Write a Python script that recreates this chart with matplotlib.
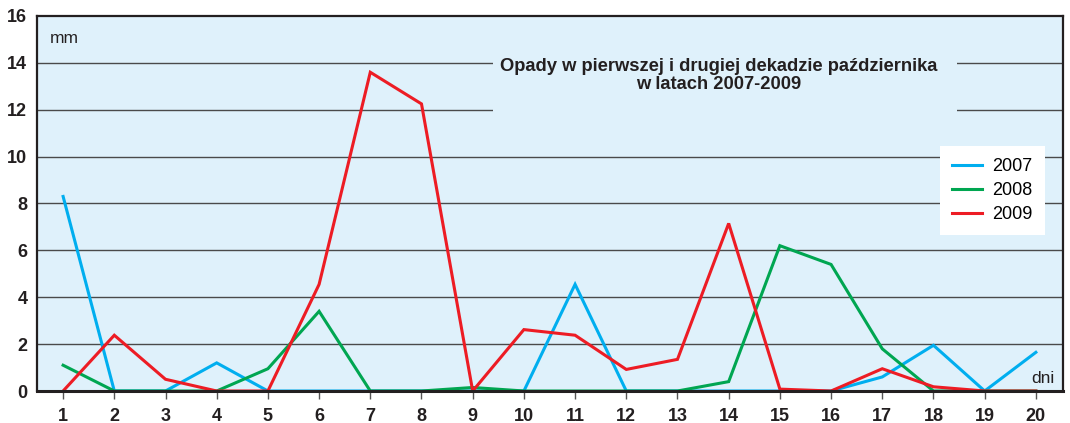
import matplotlib.pyplot as plt
import matplotlib
from matplotlib.patches import Rectangle

days = list(range(1, 21))
y2007 = [8.3, 0, 0, 1.2, 0, 0, 0, 0, 0, 0, 4.55, 0, 0, 0, 0, 0, 0.6, 1.95, 0, 1.65]
y2008 = [1.1, 0, 0, 0, 0.95, 3.4, 0, 0, 0.15, 0, 0, 0, 0, 0.4, 6.2, 5.4, 1.8, 0, 0, 0]
y2009 = [0, 2.38, 0.5, 0, 0, 4.55, 13.6, 12.25, 0, 2.62, 2.38, 0.92, 1.35, 7.15, 0.08, 0, 0.95, 0.18, 0, 0]
labels = ["2007", "2008", "2009"]
colors = ["#00aeef", "#00a651", "#ed1c24"]
title = "Opady w pierwszej i drugiej dekadzie października\nw latach 2007-2009"


def main():
    matplotlib.rcParams['font.family'] = ['Liberation Sans', 'DejaVu Sans']
    bg = "#dff1fb"

    fig = plt.figure(figsize=(10.7, 4.23), dpi=100)
    ax = fig.add_axes([37 / 1070, 32 / 423, 1026 / 1070, 375 / 423])
    ax.set_facecolor(bg)

    for v in range(2, 16, 2):
        ax.axhline(v, color="#4a4a4a", lw=1.0, zorder=1)

    # patch hiding the grid behind the title
    ax.add_patch(Rectangle((0.4444, 0.709), 0.4523, 0.214, transform=ax.transAxes,
                           facecolor=bg, edgecolor="none", zorder=1.5))

    for ys, c, lab in zip([y2007, y2008, y2009], colors, labels):
        ax.plot(days, ys, color=c, lw=2.2, label=lab, zorder=3, solid_joinstyle="miter")

    ax.set_xlim(0.49, 20.53)
    ax.set_ylim(0, 16)
    ax.set_xticks(days)
    ax.set_yticks(range(0, 17, 2))
    ax.tick_params(axis="x", length=6, width=1, color="#555555", pad=6, labelsize=13)
    ax.tick_params(axis="y", length=0, pad=7, labelsize=13)
    for t in ax.get_xticklabels() + ax.get_yticklabels():
        t.set_fontweight("bold")
        t.set_color("#231f20")
    for s in ax.spines.values():
        s.set_linewidth(1.6)
        s.set_color("#231f20")
    ax.spines["bottom"].set_linewidth(2.2)
    ax.spines["bottom"].set_zorder(4)

    ax.text(13.81, 13.45, title, ha="center", va="center", fontsize=13.2,
            fontweight="bold", color="#231f20", linespacing=1.1, zorder=2)

    ax.text(0.74, 15.06, "mm", ha="left", va="center", fontsize=12.5, color="#231f20")
    ax.text(20.37, 0.55, "dni", ha="right", va="center", fontsize=12.5, color="#231f20")

    leg = ax.legend(loc="upper right", bbox_to_anchor=(0.982, 0.653), fontsize=13,
                    frameon=True, fancybox=False, framealpha=1, borderaxespad=0,
                    handlelength=1.65, handletextpad=0.6, labelspacing=0.4,
                    borderpad=0.65)
    leg.get_frame().set_edgecolor("none")
    leg.get_frame().set_facecolor("white")
    leg.set_zorder(5)

    plt.savefig("out.png", dpi=100)


if __name__ == "__main__":
    main()
